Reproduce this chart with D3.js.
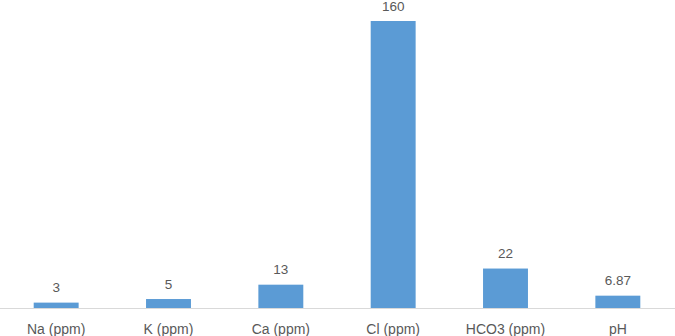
<!DOCTYPE html>
<html lang="en">
<head>
	<meta charset="UTF-8">
	<title>Water analysis</title>
	<script src="https://cdn.jsdelivr.net/npm/d3@7"></script>
	<style>
		*{
			margin: 0px;
			box-sizing: border-box;
		}
		html,body{
			width:675px;
			height:336px;
			overflow: hidden;
			background: #fff;
		}
		.label{
			font-family: "Liberation Sans", Arial, sans-serif;
			font-size: 13.5px;
			fill: #595959;
		}
		.xAxis path, .xAxis line{
			stroke: none;
		}
	</style>
</head>
<body>
	<svg id="svg"></svg>
	<script>
		var categories = ["Na (ppm)", "K (ppm)", "Ca (ppm)", "Cl (ppm)", "HCO3 (ppm)", "pH"];
		var values = [3, 5, 13, 160, 22, 6.87];
		var valueLabels = ["3", "5", "13", "160", "22", "6.87"];

		var w = 675, h = 336,
			base = 308,
			svg = d3.select("#svg").attr("width", w).attr("height", h);

		var x = d3.scaleBand()
			.domain(categories)
			.range([0, 674])
			.paddingInner(0.6)
			.paddingOuter(0.3);

		var y = d3.scaleLinear()
			.domain([0, 160])
			.range([base, 21]);

		var rows = categories.map(function(c, i) {
			return {cat: c, v: values[i], txt: valueLabels[i]};
		});

		svg.append("g")
			.selectAll("rect")
			.data(rows)
			.enter().append("rect")
			.attr("x", function(d) { return x(d.cat); })
			.attr("width", x.bandwidth())
			.attr("y", function(d) { return y(d.v); })
			.attr("height", function(d) { return base - y(d.v); })
			.attr("fill", "#5b9bd5");

		// baseline
		svg.append("line")
			.attr("x1", 0).attr("x2", w)
			.attr("y1", base + 0.5).attr("y2", base + 0.5)
			.attr("stroke", "#d9d9d9")
			.attr("stroke-width", 1);

		svg.append("g")
			.selectAll("text")
			.data(rows)
			.enter().append("text")
			.attr("class", "label")
			.attr("text-anchor", "middle")
			.attr("x", function(d) { return x(d.cat) + x.bandwidth() / 2; })
			.attr("y", function(d) { return y(d.v) - 10.5; })
			.text(function(d) { return d.txt; });

		var xAxis = svg.append("g")
			.attr("class", "xAxis")
			.attr("transform", "translate(0," + base + ")")
			.call(d3.axisBottom(x).tickSize(0).tickPadding(16));
		xAxis.selectAll("text")
			.attr("class", "label")
			.style("font-size", "14px")
			.attr("font-family", null)
			.attr("font-size", null)
			.attr("fill", null);
	</script>
</body>
</html>
